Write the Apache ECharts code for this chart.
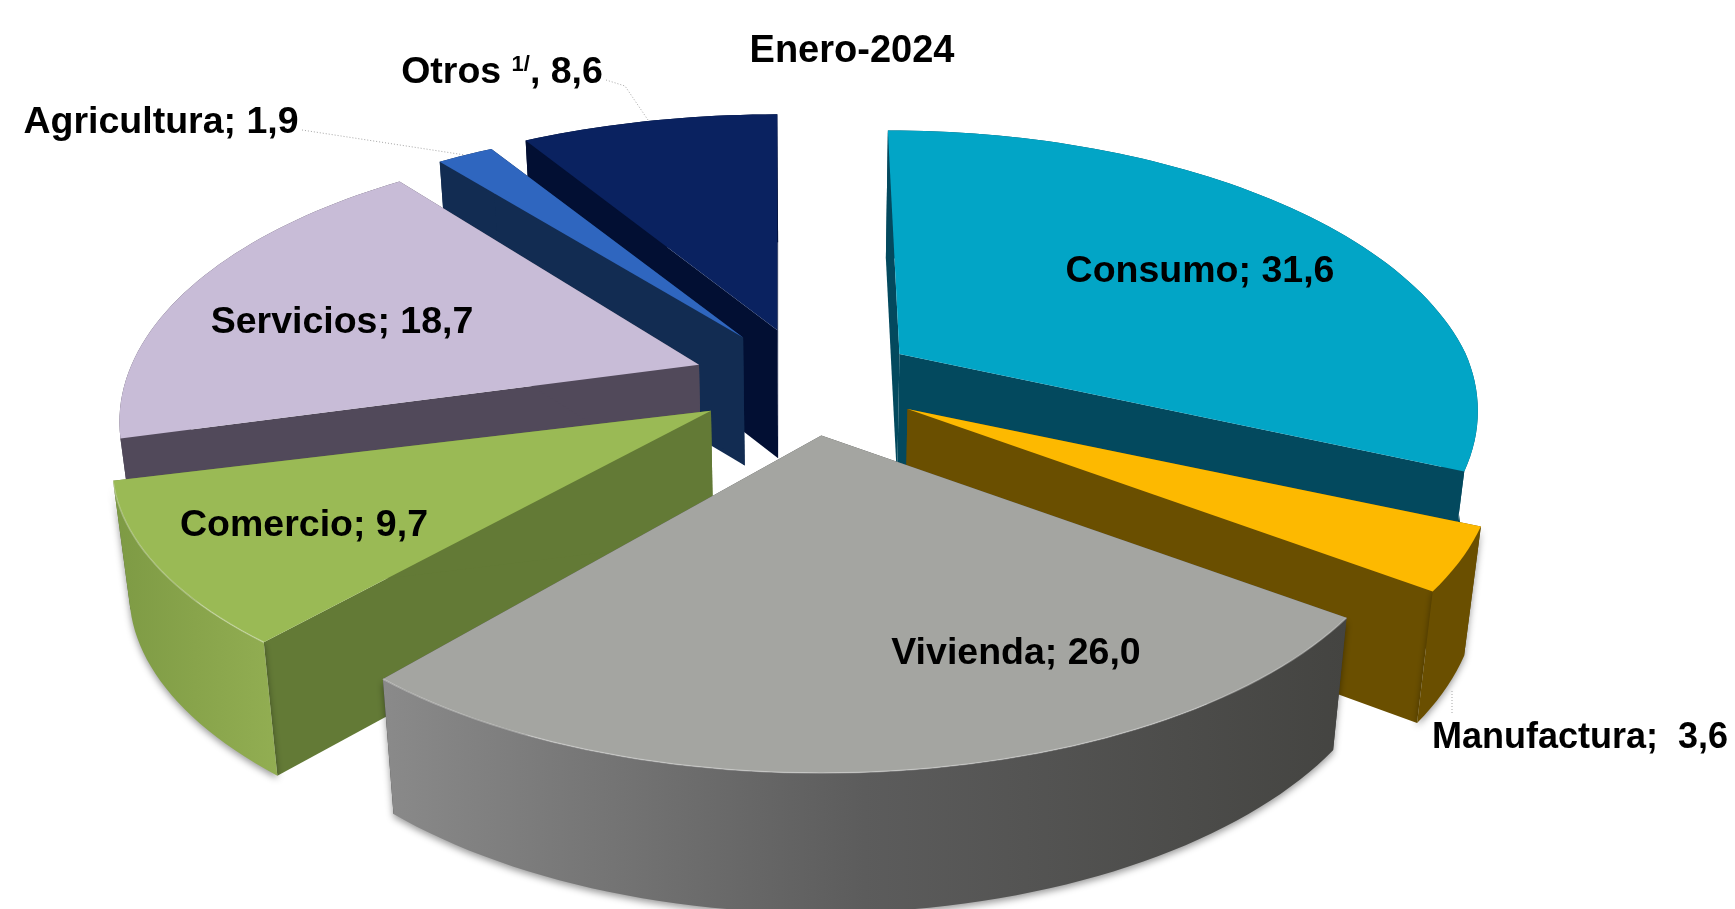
<!DOCTYPE html>
<html>
<head>
<meta charset="utf-8">
<title>Enero-2024</title>
<script src="https://cdn.jsdelivr.net/npm/echarts@6/dist/echarts.min.js"></script>
<style>
  html, body { margin: 0; padding: 0; background: #fff; }
  #chart { width: 1735px; height: 909px; overflow: hidden; }
</style>
</head>
<body>
<div id="chart"></div>
<script>
  const titleText = 'Enero-2024'
  const categories = ['Consumo', 'Manufactura', 'Vivienda', 'Comercio', 'Servicios', 'Agricultura', 'Otros {sup|1/}']
  const values = [31.6, 3.6, 26.0, 9.7, 18.7, 1.9, 8.6]
  const separators = ['; ', ';  ', '; ', '; ', '; ', '; ', ', ']

  const topColors = ['#02a5c6', '#fdb900', '#a4a5a1', '#9aba55', '#c8bcd7', '#2f66bf', '#0a2260']
  const edgeColors = ['#03495e', '#6a4f00', '#4a4a48', '#637a36', '#51495a', '#122c52', '#020f33']
  const outerColors = [
    ['#03495e', '#03495e', '#03495e'],
    ['#6a4f00', '#6a4f00', '#6a4f00'],
    ['#8a8a8a', '#5c5c5c', '#444441'],
    ['#7d9a44', '#88a44b', '#92ae52'],
    ['#51495a', '#51495a', '#51495a'],
    ['#122c52', '#122c52', '#122c52'],
    ['#020f33', '#020f33', '#020f33']
  ]
  // back to front
  const paintOrder = [3, 4, 6, 5, 2, 1, 0]
  const rimSlices = [2, 3]
  const shadowSlices = [1, 2, 3]

  const explodes = [0.19, 0.2, 0.2, 0.2, 0.2, 0.2, 0.2]
  const scalesX = [0.985, 1, 1, 1.02, 0.987, 1, 1]
  const scalesY = [1, 1, 1, 0.95, 1, 0.96, 0.965]

  const labelSpots = [[1200, 272], [1580, 738], [1016, 654], [304, 526], [342, 323], [161, 123], [502, 73]]
  const labelSizes = [37.5, 36, 37.5, 37.5, 37.5, 37.5, 37.5]
  const leaderLines = [
    null,
    [[1452, 691], [1452, 713]],
    null,
    null,
    null,
    [[302, 130], [465, 155]],
    [[606, 80], [625, 86], [648, 120]]
  ]

  // tilted pie
  const cx = 808
  const cy = 382
  const radiusX = 575
  const radiusY = 269
  const persp = 0.203
  const depth = 128
  const baseShrink = 0.975

  const total = values.reduce((a, b) => a + b, 0)
  const starts = []
  values.reduce((acc, v, i) => {
    starts[i] = acc
    return acc + v
  }, 0)

  function unit (deg) {
    const r = deg * Math.PI / 180
    return [Math.sin(r), -Math.cos(r)]
  }

  function sliceGeometry (i) {
    const from = starts[i] / total * 360
    const to = (starts[i] + values[i]) / total * 360
    const mid = unit((from + to) / 2)
    const apex = [cx + radiusX * explodes[i] * mid[0], cy + radiusY * explodes[i] * mid[1]]
    const arc = []
    const steps = Math.max(2, Math.ceil((to - from) / 1.5))
    for (let s = 0; s <= steps; s++) {
      const p = unit(from + (to - from) * s / steps)
      const w = 1 - persp * p[1]
      // far edge leans toward the middle on the right of the picture
      const lean = 0.75 * Math.max(0, apex[0] - cx) * (Math.min(1 / w, 1) - 1)
      arc.push([
        apex[0] + radiusX * scalesX[i] * p[0] / w + lean,
        apex[1] + radiusY * scalesY[i] * p[1] / w
      ])
    }
    return {apex, arc}
  }

  // base of the wall under a point of the top face, a bit taller toward the viewer
  function lower (pt) {
    const t = Math.max(0, (pt[1] - cy) / (radiusY * 1.25))
    return [cx + (pt[0] - cx) * baseShrink, pt[1] + depth * (1 + 0.07 * t * t)]
  }

  function renderSlice (params, api) {
    const i = params.dataIndex
    const geo = sliceGeometry(i)
    const z = paintOrder[i] * 10
    const arc = geo.arc
    const first = arc[0]
    const last = arc[arc.length - 1]
    const outerStyle = {
      fill: new echarts.graphic.LinearGradient(0, 0, 1, 0, [
        {offset: 0, color: outerColors[i][0]},
        {offset: 0.5, color: outerColors[i][1]},
        {offset: 1, color: outerColors[i][2]}
      ])
    }
    if (shadowSlices.indexOf(i) > -1) {
      outerStyle.shadowBlur = 7
      outerStyle.shadowColor = 'rgba(0,0,0,0.4)'
      outerStyle.shadowOffsetY = 3
    }
    const children = [
      {
        type: 'polygon',
        z2: z,
        shape: {points: [geo.apex, first, lower(first), lower(geo.apex)]},
        style: {fill: edgeColors[i]}
      },
      {
        type: 'polygon',
        z2: z,
        shape: {points: [geo.apex, last, lower(last), lower(geo.apex)]},
        style: {fill: edgeColors[i]}
      },
      {
        type: 'polygon',
        z2: z + 1,
        shape: {points: arc.concat(arc.slice().reverse().map(lower))},
        style: outerStyle
      },
      {
        type: 'polygon',
        z2: z + 2,
        shape: {points: [geo.apex].concat(arc)},
        style: {fill: topColors[i]}
      }
    ]
    if (rimSlices.indexOf(i) > -1) {
      children.push({
        type: 'polyline',
        z2: z + 3,
        shape: {points: arc},
        style: {fill: null, stroke: 'rgba(255,255,255,0.3)', lineWidth: 1.5}
      })
    }
    if (leaderLines[i]) {
      children.push({
        type: 'polyline',
        z2: 900,
        shape: {points: leaderLines[i]},
        style: {fill: null, stroke: '#a6a6a6', lineWidth: 1, lineDash: [1, 2]}
      })
    }
    children.push({
      type: 'text',
      z2: 1000,
      x: labelSpots[i][0],
      y: labelSpots[i][1],
      style: {
        text: categories[i] + separators[i] + api.value(0).toFixed(1).replace('.', ','),
        fill: '#000',
        fontFamily: 'Liberation Sans',
        fontWeight: 'bold',
        fontSize: labelSizes[i],
        align: 'center',
        verticalAlign: 'middle',
        rich: {
          sup: {
            fontFamily: 'Liberation Sans',
            fontWeight: 'bold',
            fontSize: 22,
            verticalAlign: 'top',
            padding: [0, 0, 12, 0],
            fill: '#000'
          }
        }
      }
    })
    return {type: 'group', children}
  }

  const chart = echarts.init(document.getElementById('chart'), null, {renderer: 'canvas'})
  chart.setOption({
    animation: false,
    backgroundColor: '#fff',
    title: {
      text: titleText,
      left: 847,
      top: 28,
      textAlign: 'center',
      textStyle: {
        color: '#000',
        fontFamily: 'Liberation Sans',
        fontWeight: 'bold',
        fontSize: 38
      }
    },
    series: [
      {
        type: 'custom',
        coordinateSystem: 'none',
        renderItem: renderSlice,
        data: values.map(v => [v]),
        silent: true
      }
    ]
  })
</script>
</body>
</html>
